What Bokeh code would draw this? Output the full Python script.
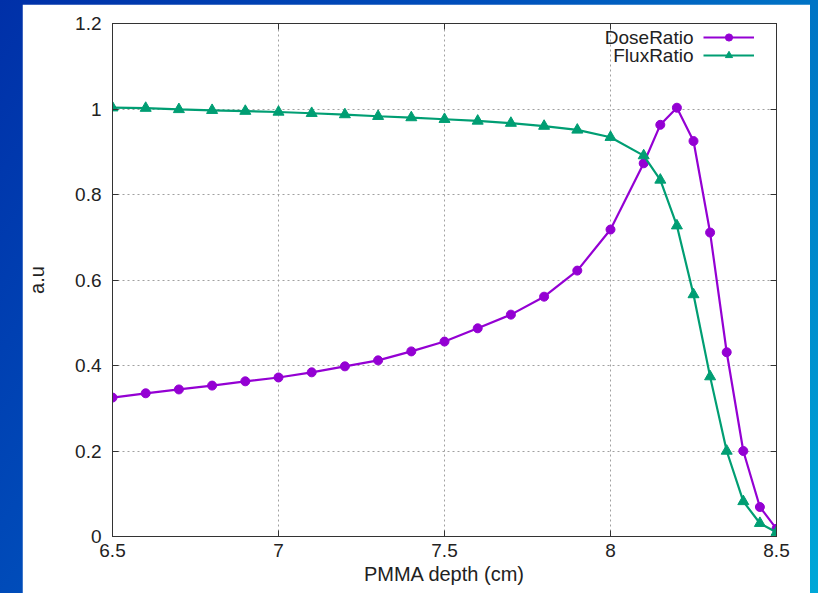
from bokeh.plotting import figure
from bokeh.models import (FixedTicker, CustomJSTickFormatter, LinearAxis, Legend, LegendItem,
                          Label, Column, Range1d)
from bokeh.core.properties import value
from bokeh.embed import file_html
from bokeh.resources import INLINE

# ---- data ----
depth = [6.5, 6.6, 6.7, 6.8, 6.9, 7.0, 7.1, 7.2, 7.3, 7.4, 7.5, 7.6, 7.7, 7.8, 7.9, 8.0,
         8.1, 8.15, 8.2, 8.25, 8.3, 8.35, 8.4, 8.45, 8.5]
dose_ratio = [0.325, 0.335, 0.344, 0.353, 0.363, 0.372, 0.384, 0.398, 0.412, 0.433, 0.456,
              0.487, 0.519, 0.561, 0.622, 0.718, 0.873, 0.963, 1.003, 0.925, 0.711, 0.431,
              0.200, 0.069, 0.018]
flux_ratio = [1.003, 1.002, 0.999, 0.997, 0.995, 0.993, 0.990, 0.987, 0.983, 0.980, 0.976,
              0.972, 0.967, 0.960, 0.951, 0.934, 0.891, 0.834, 0.727, 0.566, 0.374, 0.200,
              0.082, 0.031, 0.010]
x_ticks = [6.5, 7, 7.5, 8, 8.5]
y_ticks = [0, 0.2, 0.4, 0.6, 0.8, 1, 1.2]
series_names = ["DoseRatio", "FluxRatio"]

DOSE_C = "#9400d3"
FLUX_C = "#009e73"
FONT = "Liberation Sans"
TXT = "#222222"

p = figure(width=788, height=589, output_backend="svg", toolbar_location=None,
           x_range=Range1d(6.5, 8.5), y_range=Range1d(0, 1.2),
           min_border_left=90, min_border_right=34, min_border_top=19, min_border_bottom=57)
p.margin = (4, 8, 0, 22)
p.background_fill_color = "white"
p.border_fill_color = "white"
p.outline_line_color = "#333333"
p.outline_line_width = 1

fmt = CustomJSTickFormatter(code="return String(Math.round(tick*100)/100);")
blank = CustomJSTickFormatter(code="return '';")

for ax, ticks in ((p.xaxis[0], x_ticks), (p.yaxis[0], y_ticks)):
    ax.ticker = FixedTicker(ticks=ticks)
    ax.formatter = fmt
    ax.major_tick_in = 6
    ax.major_tick_out = 0
    ax.minor_tick_line_color = None
    ax.axis_line_color = "#333333"
    ax.major_tick_line_color = "#333333"
    ax.major_label_text_font = FONT
    ax.major_label_text_font_size = "19px"
    ax.major_label_text_color = TXT
    ax.axis_label_text_font = FONT
    ax.axis_label_text_font_size = "20px"
    ax.axis_label_text_font_style = "normal"
    ax.axis_label_text_color = TXT

p.xaxis[0].axis_label = "PMMA depth (cm)"
p.xaxis[0].major_label_standoff = 7
p.xaxis[0].axis_label_standoff = 3
p.yaxis[0].axis_label = "a.u"
p.yaxis[0].major_label_standoff = 11
p.yaxis[0].axis_label_standoff = 24

# mirrored axes
for loc, ticks in (("right", y_ticks), ("above", x_ticks)):
    ax = LinearAxis(ticker=FixedTicker(ticks=ticks), formatter=blank,
                    major_tick_in=6, major_tick_out=0, minor_tick_line_color=None,
                    axis_line_color="#333333", major_tick_line_color="#333333",
                    major_label_standoff=0, major_label_text_font_size="1px")
    p.add_layout(ax, loc)

for g in (p.xgrid[0], p.ygrid[0]):
    g.grid_line_color = "#a0a0a0"
    g.grid_line_dash = "2 3"
    g.grid_line_width = 1
p.xgrid[0].ticker = FixedTicker(ticks=x_ticks)
p.ygrid[0].ticker = FixedTicker(ticks=y_ticks)

l1 = p.line(depth, dose_ratio, line_color=DOSE_C, line_width=2.2)
m1 = p.scatter(depth, dose_ratio, marker="circle", size=9, fill_color=DOSE_C, line_color=DOSE_C)
l2 = p.line(depth, flux_ratio, line_color=FLUX_C, line_width=2.2)
m2 = p.scatter(depth, flux_ratio, marker="triangle", size=11, fill_color=FLUX_C, line_color=FLUX_C)

legend = Legend(items=[LegendItem(label=" ", renderers=[l1, m1]),
                       LegendItem(label=" ", renderers=[l2, m2])],
                location=(591, 472), glyph_width=51, glyph_height=18,
                label_width=0, label_height=18, label_standoff=0, label_text_font_size="1px",
                padding=0, spacing=0, margin=0,
                border_line_alpha=0, background_fill_alpha=0)
p.add_layout(legend)

for name, yv in zip(series_names, (1.168, 1.125)):
    p.add_layout(Label(x=8.25, y=yv, text=name, text_align="right", text_baseline="middle",
                       text_font=FONT, text_font_size="19px", text_color=TXT))

layout = Column(p, width=818, height=593,
                styles={"background": "linear-gradient(125deg, #0030a8 0%, #0050bc 40%, #0080c8 75%, #00a8d8 100%)"})

open("out.html", "w").write(file_html(layout, INLINE))
